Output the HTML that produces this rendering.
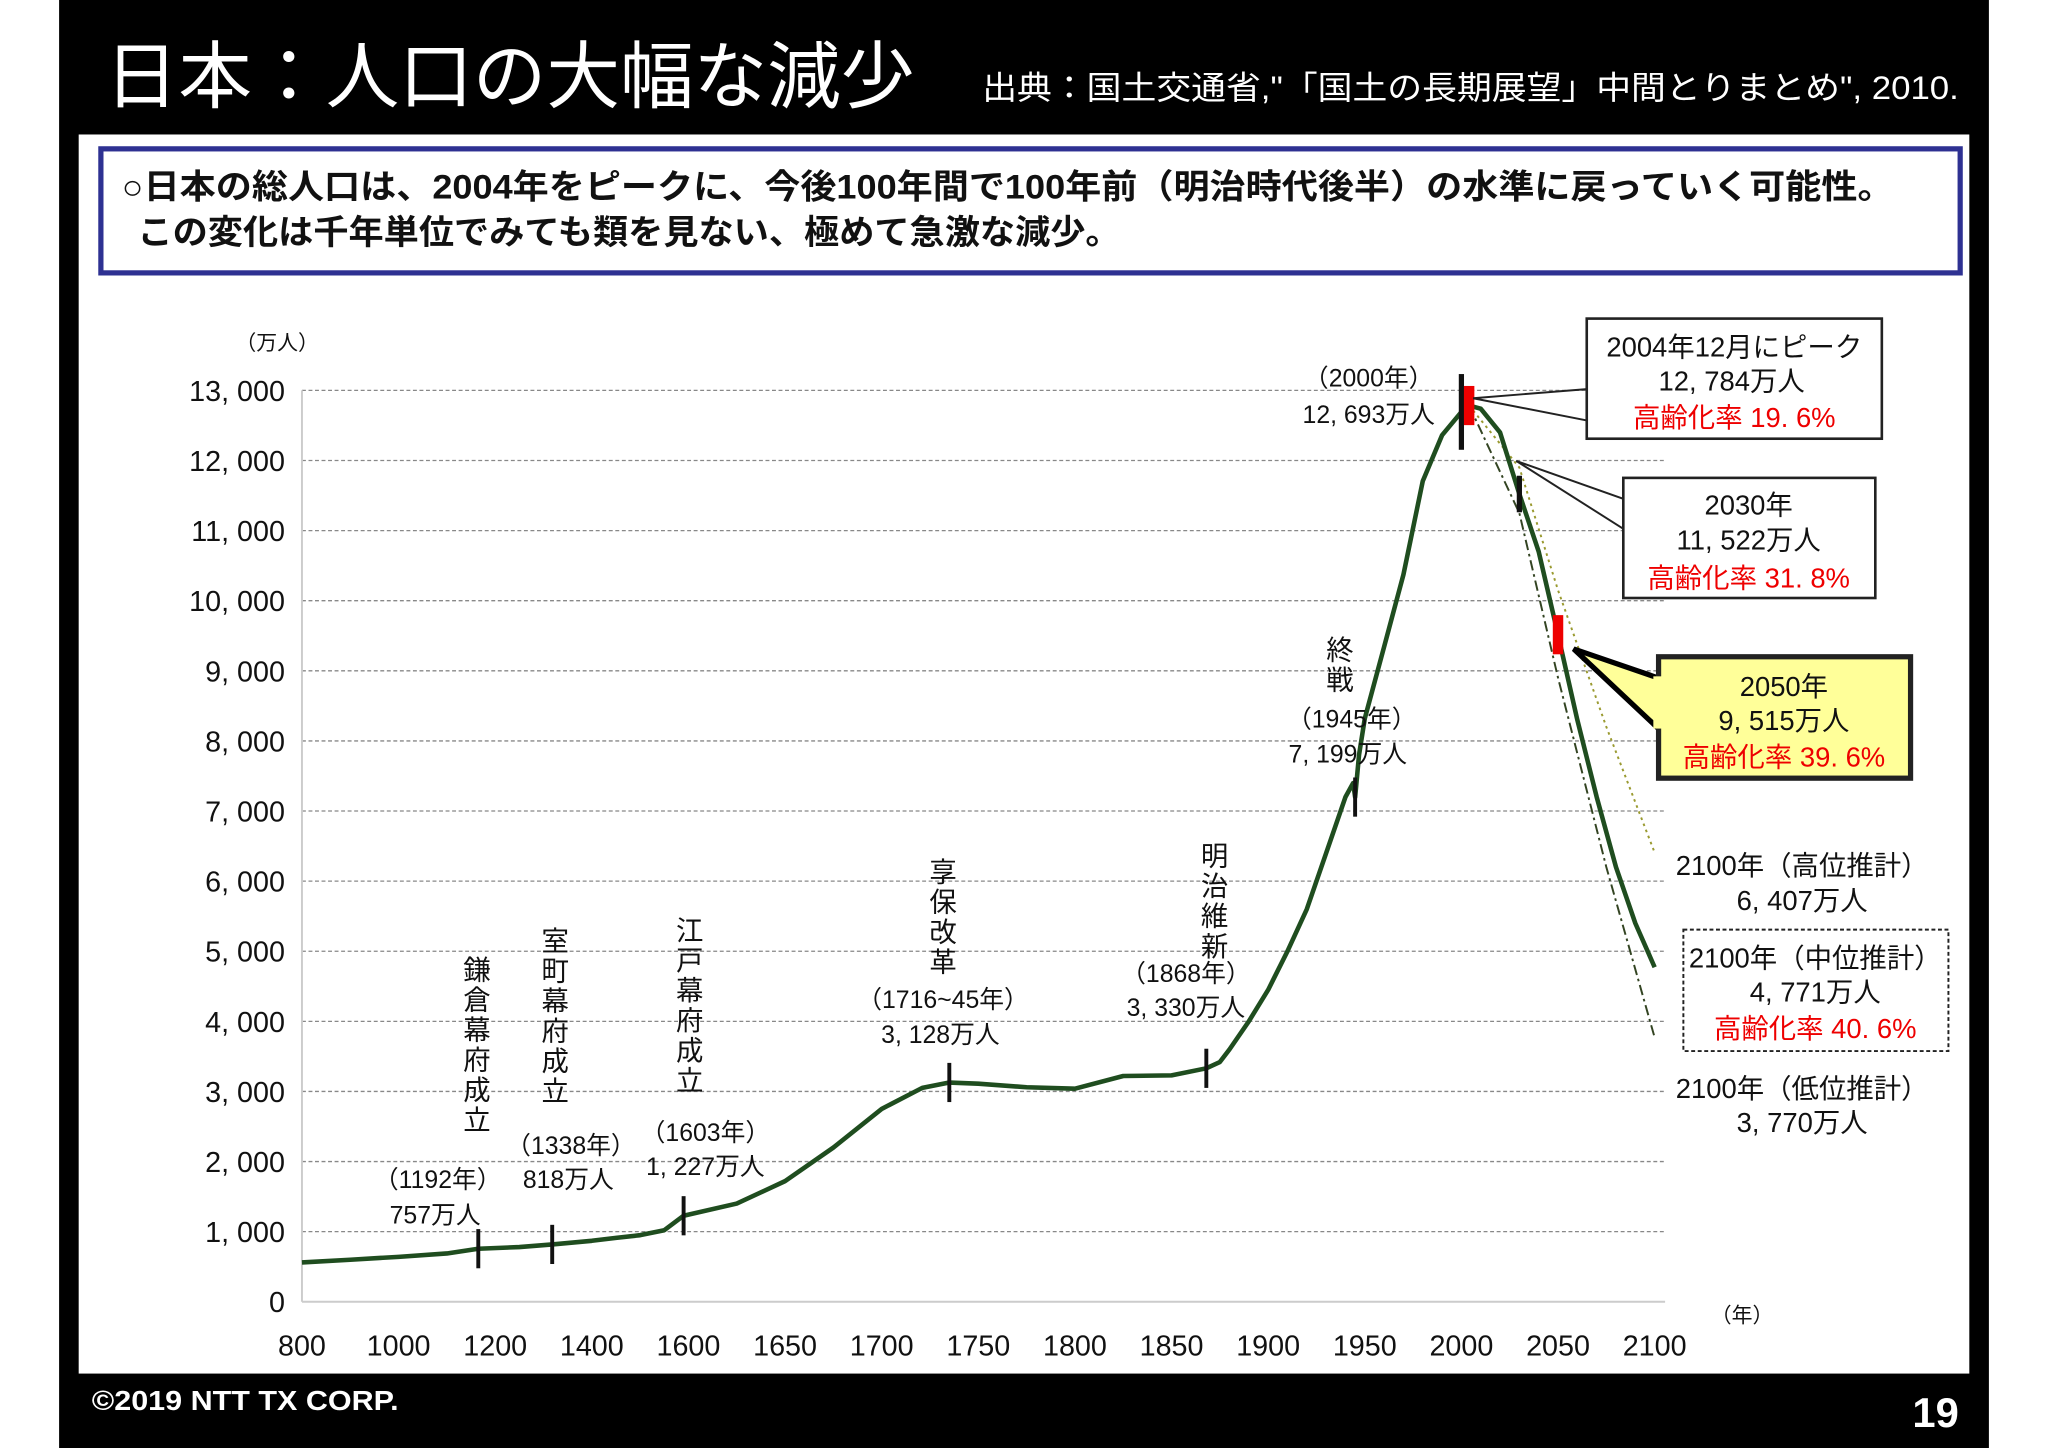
<!DOCTYPE html>
<html><head><meta charset="utf-8"><style>
html,body{margin:0;padding:0;background:#fff;}
svg{display:block;}
text{font-family:"Liberation Sans","Noto Sans CJK JP",sans-serif;}
</style></head><body>
<svg id="s" width="2048" height="1448" viewBox="0 0 1568 1109" xmlns="http://www.w3.org/2000/svg">
<rect x="0" y="0" width="1568" height="1109" fill="#fff"/>
<rect x="45" y="0" width="1478" height="1109" fill="#000"/>
<text x="80" y="78" fill="#fff" font-size="56" textLength="620" lengthAdjust="spacingAndGlyphs">日本：人口の大幅な減少</text>
<text x="752" y="76" fill="#fff" font-size="25" textLength="748" lengthAdjust="spacingAndGlyphs">出典：国土交通省,"「国土の長期展望」中間とりまとめ", 2010.</text>
<rect x="60" y="103" width="1448" height="949" fill="#fff"/>
<rect x="77" y="114" width="1424" height="95" fill="#fff" stroke="#2e3192" stroke-width="4"/>
<text x="93" y="152" font-size="26" font-weight="bold" fill="#111" textLength="1357" lengthAdjust="spacingAndGlyphs">○日本の総人口は、2004年をピークに、今後100年間で100年前（明治時代後半）の水準に戻っていく可能性。</text>
<text x="105" y="187" font-size="26" font-weight="bold" fill="#111" textLength="753" lengthAdjust="spacingAndGlyphs">この変化は千年単位でみても類を見ない、極めて急激な減少。</text>
<g id="chart"></g>
<text x="70" y="1080" fill="#fff" font-size="21" font-weight="bold" textLength="235" lengthAdjust="spacingAndGlyphs">©2019 NTT TX CORP.</text>
<text x="1500" y="1093" fill="#fff" font-size="32" font-weight="bold" text-anchor="end">19</text>
</svg>
<script>
const xTicks=[800,1000,1200,1400,1600,1650,1700,1750,1800,1850,1900,1950,2000,2050,2100];
const yTicks=[0,1000,2000,3000,4000,5000,6000,7000,8000,9000,10000,11000,12000,13000];
const yTickLabels=["0","1, 000","2, 000","3, 000","4, 000","5, 000","6, 000","7, 000","8, 000","9, 000","10, 000","11, 000","12, 000","13, 000"];
const years=[800,900,1000,1100,1165,1250,1318,1400,1450,1500,1550,1590,1625,1650,1675,1700,1721,1735,1750,1775,1800,1825,1850,1868,1875,1880,1890,1900,1910,1920,1930,1940,1944,1945,1947,1950,1960,1970,1980,1990,2000,2004,2010,2020,2030,2040,2050,2060,2070,2080,2090,2100];
const pop=[560,600,640,690,757,780,818,870,910,950,1020,1227,1400,1720,2200,2750,3050,3128,3110,3060,3040,3220,3230,3330,3420,3600,4000,4450,5000,5600,6400,7200,7400,7199,7800,8320,9342,10372,11706,12361,12693,12784,12740,12400,11522,10700,9515,8300,7200,6200,5400,4771];
const highYears=[2004,2030,2050,2075,2100];
const highPop=[12784,11900,10150,8200,6407];
const lowYears=[2004,2030,2050,2075,2100];
const lowPop=[12784,11250,8900,6200,3770];
const NS="http://www.w3.org/2000/svg";
const g=document.getElementById('chart');
const X0=231,STEP=74,Y0=997,YPX=698/13000;
function xs(y){ if(y<=1600) return X0+(y-800)/200*STEP; return X0+4*STEP+(y-1600)/50*STEP; }
function ys(v){ return Y0-v*YPX; }
function el(t,a,txt){const e=document.createElementNS(NS,t);for(const k in a)e.setAttribute(k,a[k]);if(txt!==undefined)e.textContent=txt;g.appendChild(e);return e;}
yTicks.forEach((v,i)=>{
 if(v>0){const l=el('line',{x1:X0,x2:1275,y1:ys(v),y2:ys(v),stroke:'#888','stroke-width':1,'stroke-dasharray':'3,2'});
 
 }
 const t=el('text',{x:218,y:ys(v)+8,'font-size':22,'text-anchor':'end',fill:'#111'},yTickLabels[i]);
 
 
});
const ax=el('line',{x1:X0,x2:1275,y1:Y0,y2:Y0,stroke:'#ccc','stroke-width':1.5});


const ay=el('line',{x1:X0,x2:X0,y1:ys(13000),y2:Y0,stroke:'#ccc','stroke-width':1.5});


xTicks.forEach(v=>{const t=el('text',{x:xs(v),y:1038,'font-size':22,'text-anchor':'middle',fill:'#111'},String(v));
 
 });
let t=el('text',{x:180,y:268,'font-size':16,fill:'#111'},'（万人）');


t=el('text',{x:1310,y:1013,'font-size':16,fill:'#111'},'（年）');


function pathOf(xa,va){return xa.map((y,i)=>(i?'L':'M')+xs(y).toFixed(1)+','+ys(va[i]).toFixed(1)).join(' ');}
let p=el('path',{d:pathOf(highYears,highPop),fill:'none',stroke:'#9a9a30','stroke-width':1.5,'stroke-dasharray':'2,3'});


p=el('path',{d:pathOf(lowYears,lowPop),fill:'none',stroke:'#334422','stroke-width':1.5,'stroke-dasharray':'8,3,2,3'});


p=el('path',{d:pathOf(years,pop),fill:'none',stroke:'#1f4d1f','stroke-width':3.5,'stroke-linejoin':'round'});


function mark(yr,v,h,col,w){const r=el('rect',{x:xs(yr)-w/2,y:ys(v)-h/2,width:w,height:h,fill:col});
 
 }
mark(1165,757,30,'#111',3);mark(1318,818,30,'#111',3);mark(1590,1227,30,'#111',3);mark(1735,3128,30,'#111',3);
mark(1868,3330,30,'#111',3);mark(1945,7199,30,'#111',3);mark(2000,12693,58,'#111',4);mark(2030,11522,28,'#111',4);
mark(2004,12784,30,'#e00',8);mark(2050,9515,30,'#e00',8);
function txt(x,y,s,size,anchor,col,name){const e=el('text',{x:x,y:y,'font-size':size||19,'text-anchor':anchor||'middle',fill:col||'#111'},s);
 
 return e;}
function vtxt(x,y,s,name){[...s].forEach((c,i)=>{const e=el('text',{x:x,y:y+i*23,'font-size':21,'text-anchor':'middle',fill:'#111'},c);
 
 });}
vtxt(365,750,'鎌倉幕府成立','kamakura-label');vtxt(425,728,'室町幕府成立','muromachi-label');vtxt(528,720,'江戸幕府成立','edo-label');
vtxt(722,675,'享保改革','kyoho-label');vtxt(930,663,'明治維新','meiji-label');vtxt(1026,505,'終戦','war-end-label');
txt(335,910,'（1192年）');txt(333,937,'757万人');txt(437,884,'（1338年）');txt(435,910,'818万人');
txt(540,874,'（1603年）');txt(540,900,'1, 227万人');txt(722,772,'（1716~45年）');txt(720,799,'3, 128万人');
txt(908,752,'（1868年）');txt(908,778,'3, 330万人');txt(1035,557,'（1945年）');txt(1032,584,'7, 199万人');
txt(1048,296,'（2000年）');txt(1048,324,'12, 693万人');
function box(x,y,w,h,fill,sw,dash,name){const r=el('rect',{x:x,y:y,width:w,height:h,fill:fill,stroke:'#222','stroke-width':sw});if(dash)r.setAttribute('stroke-dasharray',dash);
 
 }
el('polyline',{points:'1215,298 1128,305 1215,322',fill:'none',stroke:'#222','stroke-width':1.5});
box(1215,244,226,92,'#fff',2,null,'peak-callout-box');
txt(1328,273,'2004年12月にピーク',21);txt(1326,299,'12, 784万人',21);txt(1328,327,'高齢化率 19. 6%',21,'middle','#e00');
el('polyline',{points:'1243,382 1161,353 1243,405',fill:'none',stroke:'#222','stroke-width':1.5});
box(1243,366,193,92,'#fff',2,null,'2030-callout-box');
txt(1339,394,'2030年',21);txt(1339,421,'11, 522万人',21);txt(1339,450,'高齢化率 31. 8%',21,'middle','#e00');
el('polygon',{points:'1205,497 1272,520 1272,560',fill:'#ffff99',stroke:'#000','stroke-width':4,'stroke-linejoin':'miter'});
box(1270,503,193,93,'#ffff99',4,null,'2050-callout-box');
el('rect',{x:1266,y:518,width:8,height:40,fill:'#ffff99'});
txt(1366,533,'2050年',21);txt(1366,559,'9, 515万人',21);txt(1366,587,'高齢化率 39. 6%',21,'middle','#e00');
txt(1380,670,'2100年（高位推計）',21,'middle','#111','high-projection-label');txt(1380,697,'6, 407万人',21);
box(1289,712,203,93,'#fff',1.5,'3,2','2100-mid-box');
txt(1390,741,'2100年（中位推計）',21);txt(1390,767,'4, 771万人',21);txt(1390,795,'高齢化率 40. 6%',21,'middle','#e00');
txt(1380,841,'2100年（低位推計）',21,'middle','#111','low-projection-label');txt(1380,867,'3, 770万人',21);
</script>
</body></html>
